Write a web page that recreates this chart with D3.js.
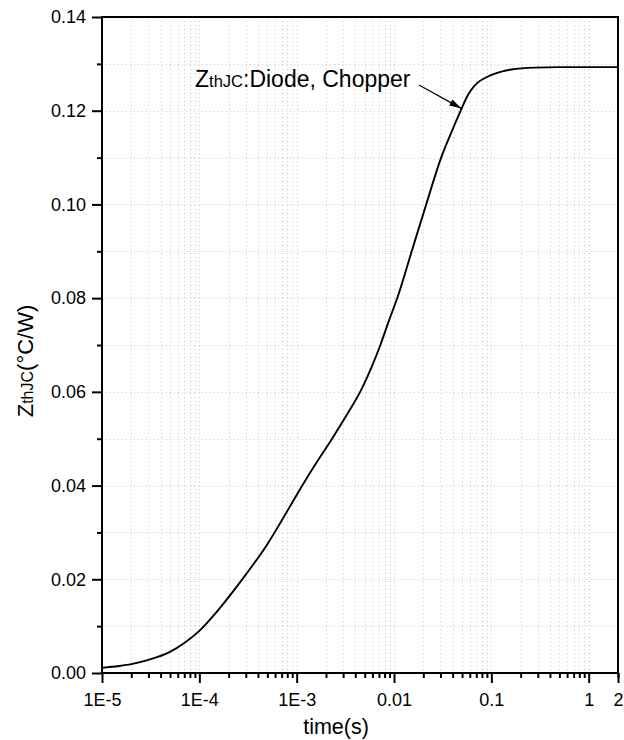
<!DOCTYPE html>
<html>
<head>
    <title>ZthJC Diode Chopper</title>
    <script src="https://d3js.org/d3.v7.min.js"></script>
    <style>
        body { margin: 0; background: #fff; }
        text { font-family: "Liberation Sans", Arial, sans-serif; fill: #000; }
    </style>
</head>
<body>
    <div id="chart"></div>
    <script>
        // time (s) and thermal impedance (°C/W)
        var times = [1e-5, 1.5e-5, 2e-5, 3e-5, 5e-5, 7e-5, 1e-4, 1.5e-4, 2e-4, 3e-4,
                     5e-4, 7e-4, 1e-3, 1.5e-3, 2.31e-3, 3.3e-3, 4.7e-3, 6e-3, 7.24e-3, 0.0088,
                     0.011, 0.0152, 0.0214, 0.0305, 0.04, 0.0484, 0.058, 0.065, 0.0734, 0.09,
                     0.109, 0.13, 0.161, 0.279, 0.5, 1, 2];
        var zth = [0.0011, 0.0015, 0.0019, 0.0028, 0.0045, 0.0064, 0.0090, 0.0130, 0.0162, 0.0210,
                   0.0275, 0.0325, 0.0380, 0.0440, 0.0500, 0.0552, 0.0608, 0.0657, 0.0700, 0.0750,
                   0.0805, 0.0900, 0.1000, 0.1100, 0.1160, 0.1200, 0.1235, 0.1250, 0.1261, 0.1272,
                   0.1279, 0.1284, 0.1288, 0.1292, 0.1293, 0.1293, 0.1293];

        var xTickValues = [1e-5, 1e-4, 1e-3, 0.01, 0.1, 1, 2];
        var xTickLabels = ["1E-5", "1E-4", "1E-3", "0.01", "0.1", "1", "2"];
        var yTickValues = [0, 0.02, 0.04, 0.06, 0.08, 0.10, 0.12, 0.14];

        var width = 624, height = 740;
        var margin = {top: 17, right: 6, bottom: 67, left: 102};
        var w = width - margin.left - margin.right;
        var h = height - margin.top - margin.bottom;

        var svg = d3.select("#chart").append("svg")
            .attr("width", width)
            .attr("height", height);

        var g = svg.append("g")
            .attr("transform", "translate(" + margin.left + "," + margin.top + ")");

        var x = d3.scaleLog().domain([1e-5, 2]).range([0, w]);
        var y = d3.scaleLinear().domain([0, 0.14]).range([h, 0]);

        // minor positions on the log axis: 2..9 x each decade
        var xMinor = [];
        [1e-5, 1e-4, 1e-3, 1e-2, 1e-1, 1].forEach(function(d) {
            for (var k = 2; k <= 9; k++) {
                if (d * k <= 2) xMinor.push(d * k);
            }
        });
        var yMinor = d3.range(1, 14, 2).map(function(i) { return i * 0.01; });
        var yAll = d3.range(1, 14).map(function(i) { return i * 0.01; });

        // dotted grid
        var grid = g.append("g").attr("stroke", "#c8c8c8").attr("stroke-width", 1)
            .attr("stroke-dasharray", "1,3");
        grid.selectAll(".vg")
            .data(xMinor.concat([1e-4, 1e-3, 0.01, 0.1, 1]))
            .enter().append("line")
            .attr("x1", function(d) { return Math.round(x(d)) + 0.5; })
            .attr("x2", function(d) { return Math.round(x(d)) + 0.5; })
            .attr("y1", 0).attr("y2", h);
        grid.selectAll(".hg")
            .data(yAll)
            .enter().append("line")
            .attr("x1", 0).attr("x2", w)
            .attr("y1", function(d) { return Math.round(y(d)) + 0.5; })
            .attr("y2", function(d) { return Math.round(y(d)) + 0.5; });

        // curve
        var line = d3.line()
            .x(function(d, i) { return x(times[i]); })
            .y(function(d) { return y(d); })
            .curve(d3.curveMonotoneX);

        g.append("path")
            .datum(zth)
            .attr("fill", "none")
            .attr("stroke", "#000")
            .attr("stroke-width", 1.9)
            .attr("d", line);

        // axes
        var xAxis = g.append("g")
            .attr("transform", "translate(0," + h + ")")
            .call(d3.axisBottom(x)
                .tickValues(xTickValues)
                .tickSize(10)
                .tickFormat(function(d, i) { return xTickLabels[i]; }));
        xAxis.select(".domain").remove();
        xAxis.selectAll("text").attr("font-size", 18).attr("y", 33).attr("dy", 0);
        xAxis.selectAll("line").attr("stroke-width", 2);

        var xAxisMinor = g.append("g")
            .attr("transform", "translate(0," + h + ")")
            .call(d3.axisBottom(x).tickValues(xMinor).tickSize(5).tickFormat(""));
        xAxisMinor.select(".domain").remove();
        xAxisMinor.selectAll("line").attr("stroke-width", 2);

        var yAxis = g.append("g")
            .call(d3.axisLeft(y)
                .tickValues(yTickValues)
                .tickSize(10)
                .tickPadding(6)
                .tickFormat(d3.format(".2f")));
        yAxis.select(".domain").remove();
        yAxis.selectAll("text").attr("font-size", 18);
        yAxis.selectAll("line").attr("stroke-width", 2);

        var yAxisMinor = g.append("g")
            .call(d3.axisLeft(y).tickValues(yMinor).tickSize(5).tickFormat(""));
        yAxisMinor.select(".domain").remove();
        yAxisMinor.selectAll("line").attr("stroke-width", 2);

        // frame
        g.append("rect")
            .attr("x", 0).attr("y", 0)
            .attr("width", w).attr("height", h)
            .attr("fill", "none")
            .attr("stroke", "#000")
            .attr("stroke-width", 2);

        // axis titles
        svg.append("text")
            .attr("x", 336)
            .attr("y", 734)
            .attr("text-anchor", "middle")
            .attr("font-size", 21.5)
            .text("time(s)");

        var yt = svg.append("text")
            .attr("transform", "translate(33,361) rotate(-90)")
            .attr("text-anchor", "middle")
            .attr("font-size", 22);
        yt.append("tspan").text("Z");
        yt.append("tspan").attr("font-size", 16).text("thJC");
        yt.append("tspan").text("(°C/W)");

        // annotation
        svg.append("defs").append("marker")
            .attr("id", "arrow")
            .attr("viewBox", "0 0 12 10")
            .attr("refX", 12).attr("refY", 5)
            .attr("markerWidth", 12).attr("markerHeight", 10)
            .attr("markerUnits", "userSpaceOnUse")
            .attr("orient", "auto")
            .append("path")
            .attr("d", "M0,1.5 L12,5 L0,8.5 Z")
            .attr("fill", "#000");

        var ann = svg.append("text")
            .attr("x", 195)
            .attr("y", 87)
            .attr("font-size", 23);
        ann.append("tspan").text("Z");
        ann.append("tspan").attr("font-size", 16.5).text("thJC");
        ann.append("tspan").text(":Diode, Chopper");

        svg.append("line")
            .attr("x1", 419).attr("y1", 85)
            .attr("x2", margin.left + x(0.049)).attr("y2", margin.top + y(0.1205))
            .attr("stroke", "#000")
            .attr("stroke-width", 1.2)
            .attr("marker-end", "url(#arrow)");
    </script>
</body>
</html>
